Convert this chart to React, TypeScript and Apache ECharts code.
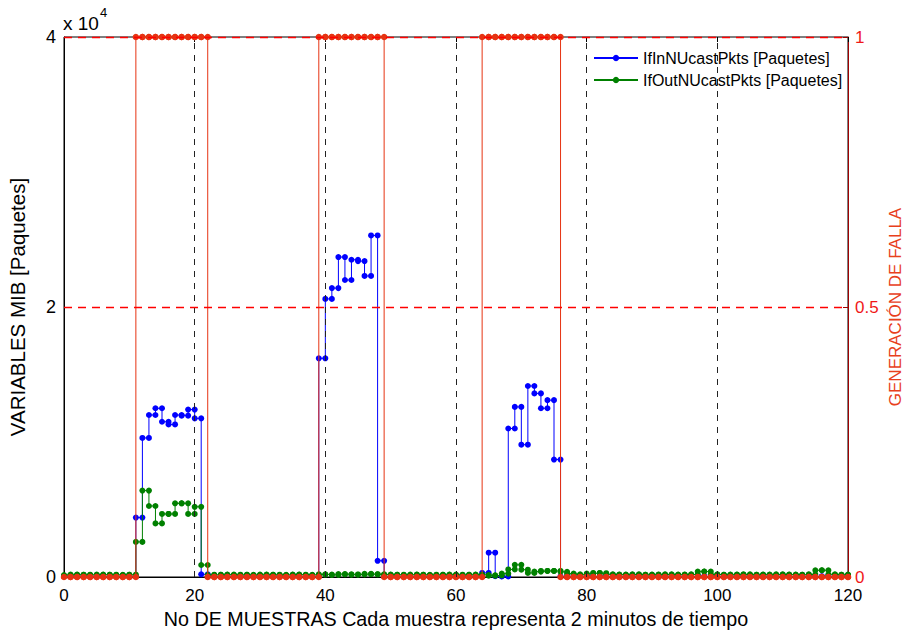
import React, { useEffect, useRef } from "react";
import * as echarts from "echarts";

const xTicks = [0, 20, 40, 60, 80, 100, 120];
const xGridLines = [20, 40, 60, 80, 100];
const leftTicks = [0, 20000, 40000];
const rightTicks = [0, 0.5, 1];
const rightGridLevels = [0.5, 1];

// IfInNUcastPkts, samples 0..120
const inPkts = [
  40, 40, 50, 40, 40, 50, 40, 40, 40, 50, 40,
  4400, 10300, 12000, 12500, 11500, 11300, 12000, 11950, 12400, 11750, 200,
  40, 40, 50, 40, 40, 40, 50, 40, 40, 40, 50, 40, 40, 40, 50, 40, 40,
  16200, 20600, 21400, 23700, 22000, 23500, 23400, 22300, 25300, 1200,
  40, 40, 50, 40, 40, 40, 50, 40, 40, 40, 50, 40, 40, 40, 50,
  300, 1800, 60, 40, 11000, 12600, 9800, 14150, 13600, 12500, 13100, 8700,
  40, 40, 50, 40, 40, 40, 50, 40, 40, 40, 50, 40, 40, 40, 50,
  40, 40, 50, 40, 40, 40, 50, 40, 40, 40, 50, 40, 40, 40, 50,
  40, 40, 50, 40, 40, 40, 50, 40, 40, 40, 50, 40, 40, 40, 50,
];

// IfOutNUcastPkts, samples 0..120
const outPkts = [
  150, 180, 160, 170, 150, 180, 160, 170, 150, 160, 170,
  2600, 6400, 5260, 3970, 4670, 4670, 5460, 5460, 4670, 5200, 890,
  150, 170, 160, 180, 150, 170, 160, 150, 180, 160, 170, 150, 160, 180, 170, 150, 160,
  200, 180, 150, 220, 200, 170, 190, 230, 210, 200,
  180, 160, 170, 150, 180, 170, 160, 150, 170, 160, 180, 150, 170, 160, 180,
  150, 100, 120, 250, 560, 900, 540, 300, 400, 450, 450, 450,
  380, 250, 200, 150, 250, 300, 280, 200, 170, 180, 160, 200, 170, 160, 180,
  170, 200, 160, 180, 170, 200, 400, 400, 200, 170, 160, 180, 170, 200, 160,
  170, 180, 160, 200, 170, 180, 160, 170, 200, 500, 500, 200, 170, 160, 180,
];

// GENERACIÓN DE FALLA, samples 0..120
const fault = [
  0, 0, 0, 0, 0, 0, 0, 0, 0, 0, 0,
  1, 1, 1, 1, 1, 1, 1, 1, 1, 1, 1,
  0, 0, 0, 0, 0, 0, 0, 0, 0, 0, 0, 0, 0, 0, 0, 0, 0,
  1, 1, 1, 1, 1, 1, 1, 1, 1, 1,
  0, 0, 0, 0, 0, 0, 0, 0, 0, 0, 0, 0, 0, 0, 0,
  1, 1, 1, 1, 1, 1, 1, 1, 1, 1, 1, 1,
  0, 0, 0, 0, 0, 0, 0, 0, 0, 0, 0, 0, 0, 0, 0,
  0, 0, 0, 0, 0, 0, 0, 0, 0, 0, 0, 0, 0, 0, 0,
  0, 0, 0, 0, 0, 0, 0, 0, 0, 0, 0, 0, 0, 0, 0,
];

const inName = "IfInNUcastPkts [Paquetes]";
const outName = "IfOutNUcastPkts [Paquetes]";
const faultName = "GENERACIÓN DE FALLA";

// MATLAB-like stairs: markers at every vertex
function stairs(vals: number[]) {
  const pts: number[][] = [];
  vals.forEach((v, i) => {
    pts.push([i, v]);
    if (i < vals.length - 1) pts.push([i + 1, v]);
  });
  return pts;
}

const FONT = "'Liberation Sans', Arial, sans-serif";

export default function App() {
  const ref = useRef<HTMLDivElement>(null);
  useEffect(() => {
    if (!ref.current) return;
    const chart = echarts.init(ref.current, undefined, { renderer: "svg" });
    const option: any = {
      animation: false,
      backgroundColor: "#fff",
      textStyle: { fontFamily: FONT },
      grid: {
        left: 64,
        right: 58,
        top: 37,
        bottom: 54,
        show: true,
        borderColor: "#000",
        borderWidth: 1,
        backgroundColor: "transparent",
        outerBoundsMode: "none",
        containLabel: false,
      },
      legend: {
        data: [inName, outName],
        orient: "vertical",
        left: 583,
        top: 44,
        padding: [6, 1, 6, 10],
        backgroundColor: "#fff",
        itemWidth: 44,
        itemHeight: 8,
        itemGap: 6,
        textStyle: { fontFamily: FONT, fontSize: 16, color: "#000" },
      },
      graphic: [
        {
          type: "text",
          left: 63,
          top: 6,
          style: {
            text: "{a|x 10}{b|4}",
            rich: {
              a: { fontFamily: FONT, fontSize: 19, fill: "#000", verticalAlign: "bottom", padding: [8, 0, 0, 0] },
              b: { fontFamily: FONT, fontSize: 13, fill: "#000", verticalAlign: "top", padding: [0, 0, 9, 1] },
            },
          },
        },
        {
          type: "text",
          x: 895,
          y: 307,
          rotation: Math.PI / 2,
          style: {
            text: faultName,
            fontFamily: FONT,
            fontSize: 17,
            fill: "#e8401c",
            align: "center",
            verticalAlign: "middle",
          },
        },
      ],
      xAxis: [
        {
          type: "value",
          min: xTicks[0],
          max: xTicks[xTicks.length - 1],
          interval: xTicks[1] - xTicks[0],
          position: "bottom",
          axisLine: { show: true, onZero: false, lineStyle: { color: "#000", width: 1 } },
          axisTick: { show: true, inside: true, length: 5, lineStyle: { color: "#000" } },
          axisLabel: { color: "#000", fontSize: 17, margin: 10, fontFamily: FONT },
          splitLine: { show: false },
          name: "No DE MUESTRAS Cada muestra representa 2 minutos de tiempo",
          nameLocation: "middle",
          nameGap: 28,
          nameTextStyle: { color: "#000", fontSize: 19.7, fontFamily: FONT },
        },
        {
          type: "value",
          min: xTicks[0],
          max: xTicks[xTicks.length - 1],
          interval: xTicks[1] - xTicks[0],
          position: "top",
          axisLine: { show: false, onZero: false },
          axisTick: { show: true, inside: true, length: 5, lineStyle: { color: "#000" } },
          axisLabel: { show: false },
          splitLine: { show: false },
        },
      ],
      yAxis: [
        {
          type: "value",
          position: "left",
          min: leftTicks[0],
          max: leftTicks[leftTicks.length - 1],
          interval: leftTicks[1] - leftTicks[0],
          axisLine: { show: true, onZero: false, lineStyle: { color: "#000" } },
          axisTick: { show: true, inside: true, length: 5, lineStyle: { color: "#000" } },
          axisLabel: {
            color: "#000",
            fontSize: 18,
            margin: 8,
            fontFamily: FONT,
            formatter: (v: number) => String(v / 10000),
          },
          splitLine: { show: false },
          name: "VARIABLES MIB [Paquetes]",
          nameLocation: "middle",
          nameGap: 36,
          nameTextStyle: { color: "#000", fontSize: 20.5, fontFamily: FONT },
        },
        {
          type: "value",
          position: "right",
          min: rightTicks[0],
          max: rightTicks[rightTicks.length - 1],
          interval: rightTicks[1] - rightTicks[0],
          axisLine: { show: true, onZero: false, lineStyle: { color: "#a00000", width: 1 } },
          axisTick: { show: true, inside: true, length: 5, lineStyle: { color: "#a00000" } },
          axisLabel: { color: "#f01818", fontSize: 17, margin: 7, fontFamily: FONT },
          splitLine: { show: false },
        },
      ],
      series: [
        {
          name: inName,
          type: "line",
          xAxisIndex: 0,
          yAxisIndex: 0,
          data: stairs(inPkts),
          symbol: "circle",
          symbolSize: 6,
          showSymbol: true,
          lineStyle: { color: "#0000ff", width: 1 },
          itemStyle: { color: "#0000ff" },
          z: 2,
          markLine: {
            silent: true,
            symbol: "none",
            label: { show: false },
            lineStyle: { color: "#222", width: 1, type: [6, 6] },
            data: xGridLines.map((v) => ({ xAxis: v })),
          },
        },
        {
          name: outName,
          type: "line",
          xAxisIndex: 0,
          yAxisIndex: 0,
          data: stairs(outPkts),
          symbol: "circle",
          symbolSize: 6,
          showSymbol: true,
          lineStyle: { color: "#008000", width: 1 },
          itemStyle: { color: "#008000" },
          z: 3,
        },
        {
          name: faultName,
          type: "line",
          xAxisIndex: 0,
          yAxisIndex: 1,
          data: stairs(fault),
          symbol: "circle",
          symbolSize: 6.5,
          showSymbol: true,
          lineStyle: { color: "#e63312", width: 1 },
          itemStyle: { color: "#e63312" },
          z: 4,
          markLine: {
            silent: true,
            symbol: "none",
            label: { show: false },
            emphasis: { disabled: true },
            lineStyle: { color: "#ff0000", width: 1.4, type: [8, 6], opacity: 1 },
            data: rightGridLevels.map((v) => ({
              yAxis: v,
              lineStyle: { color: "#ff0000", width: 1.4, type: [8, 6] },
            })),
          },
        },
      ],
    };
    chart.setOption(option);
    return () => chart.dispose();
  }, []);
  return (
    <div
      ref={ref}
      style={{ position: "fixed", left: 0, top: 0, width: 906, height: 631 }}
    />
  );
}
